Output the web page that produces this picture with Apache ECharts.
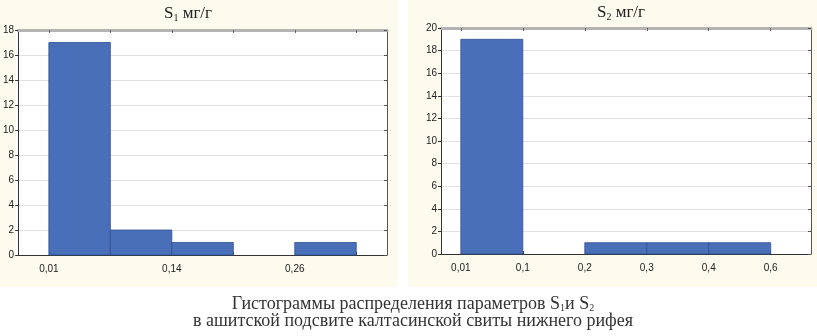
<!DOCTYPE html>
<html>
<head>
<meta charset="utf-8">
<script src="https://cdn.jsdelivr.net/npm/echarts@6/dist/echarts.min.js"></script>
<style>
  html, body { margin: 0; padding: 0; background: #fff; }
  #chart { width: 817px; height: 336px; }
</style>
</head>
<body>
<div id="chart"></div>
<script>
// bin edges are indexed 0..5, each bin spans [i, i+1]
const s1Counts = [17, 2, 1, 0, 1]
const s1EdgeLabels = ['0,01', '', '0,14', '', '0,26', '']
const s2Counts = [19, 0, 1, 1, 1]
const s2EdgeLabels = ['0,01', '0,1', '0,2', '0,3', '0,4', '0,6']
const s1YTicks = [0, 2, 4, 6, 8, 10, 12, 14, 16, 18]
const s2YTicks = [0, 2, 4, 6, 8, 10, 12, 14, 16, 18, 20]

const barFill = '#4a6fb9'
const barStroke = '#2f4f8f'
const labelFont = { fontFamily: 'Liberation Sans, Arial, sans-serif', fontSize: 10, color: '#222' }

const toBins = counts => counts.map((c, i) => [i, i + 1, c]).filter(d => d[2] > 0)
const edges = labels => labels.map((l, i) => i)
const labeledEdges = labels => labels.map((l, i) => i).filter(i => labels[i] !== '')

const renderBin = (params, api) => {
  const p0 = api.coord([api.value(0), 0])
  const p1 = api.coord([api.value(1), api.value(2)])
  return {
    type: 'rect',
    shape: { x: p0[0], y: p1[1], width: p1[0] - p0[0], height: p0[1] - p1[1] },
    style: { fill: barFill, stroke: barStroke, lineWidth: 0.8 }
  }
}

const bottomAxis = (gridIndex, min, max, labels) => ({
  type: 'value', gridIndex, min, max, position: 'bottom',
  axisLine: { onZero: false, lineStyle: { color: '#333', width: 1 } },
  axisTick: { show: true, length: 3, inside: true, customValues: edges(labels), lineStyle: { color: '#333' } },
  axisLabel: Object.assign({ customValues: labeledEdges(labels), margin: 9,
    formatter: v => labels[Math.round(v)] }, labelFont),
  splitLine: { show: false }
})
const topAxis = (gridIndex, min, max, labels) => ({
  type: 'value', gridIndex, min, max, position: 'top',
  axisLine: { onZero: false, lineStyle: { color: '#b4b4b4', width: 3 } },
  axisTick: { show: true, length: 3, inside: true, customValues: edges(labels), lineStyle: { color: '#666' } },
  axisLabel: { show: false },
  splitLine: { show: false }
})
const leftAxis = (gridIndex, ticks) => ({
  type: 'value', gridIndex, min: 0, max: ticks[ticks.length - 1], interval: 2, position: 'left',
  axisLine: { show: true, onZero: false, lineStyle: { color: '#333', width: 1 } },
  axisTick: { show: true, length: 3, lineStyle: { color: '#333' } },
  axisLabel: Object.assign({ margin: 4 }, labelFont),
  splitLine: { show: true, lineStyle: { color: '#e2e2e2', width: 1 } }
})
const rightAxis = (gridIndex, ticks) => ({
  type: 'value', gridIndex, min: 0, max: ticks[ticks.length - 1], interval: 2, position: 'right',
  axisLine: { show: true, onZero: false, lineStyle: { color: '#555', width: 1 } },
  axisTick: { show: true, length: 3, inside: true, lineStyle: { color: '#555' } },
  axisLabel: { show: false },
  splitLine: { show: false }
})

const serif = 'Liberation Serif, Times New Roman, serif'
const titleRich = {
  base: { fontFamily: serif, fontSize: 17, fontWeight: 'normal', color: '#222' },
  sub: { fontFamily: serif, fontSize: 10, fontWeight: 'normal', color: '#222', padding: [8, 0, 0, 0] }
}
const captionRich = {
  base: { fontFamily: serif, fontSize: 18, fontWeight: 'normal', color: '#333', lineHeight: 17 },
  sub: { fontFamily: serif, fontSize: 10, fontWeight: 'normal', color: '#333', padding: [8, 0, 0, 0] }
}

const chart = echarts.init(document.getElementById('chart'))
chart.setOption({
  backgroundColor: '#ffffff',
  animation: false,
  graphic: [
    { type: 'rect', left: 0, top: 0, shape: { width: 398, height: 287 }, style: { fill: '#fdfaee' }, z: -10 },
    { type: 'rect', left: 408, top: 0, shape: { width: 409, height: 287 }, style: { fill: '#fdfaee' }, z: -10 },
    { type: 'rect', left: 16, top: 30, shape: { width: 371, height: 225 }, style: { fill: '#ffffff' }, z: -9 },
    { type: 'rect', left: 441, top: 28, shape: { width: 370, height: 226 }, style: { fill: '#ffffff' }, z: -9 }
  ],
  title: [
    { text: '{base|S}{sub|1}{base| мг/г}', left: 183, top: 0, textAlign: 'center', textStyle: { fontWeight: 'normal', rich: titleRich } },
    { text: '{base|S}{sub|2}{base| мг/г}', left: 616, top: -1, textAlign: 'center', textStyle: { fontWeight: 'normal', rich: titleRich } },
    {
      text: '{base|Гистограммы распределения параметров S}{sub|1}{base|и S}{sub|2}\n{base|в ашитской подсвите калтасинской свиты нижнего рифея}',
      left: 408, top: 290, textAlign: 'center',
      textStyle: { fontWeight: 'normal', rich: captionRich }
    }
  ],
  grid: [
    { left: 16, right: 430, top: 30, bottom: 81 },
    { left: 441, right: 6, top: 28, bottom: 82 }
  ],
  xAxis: [
    bottomAxis(0, -0.5, 5.5, s1EdgeLabels),
    topAxis(0, -0.5, 5.5, s1EdgeLabels),
    bottomAxis(1, -0.32, 5.65, s2EdgeLabels),
    topAxis(1, -0.32, 5.65, s2EdgeLabels)
  ],
  yAxis: [
    leftAxis(0, s1YTicks),
    rightAxis(0, s1YTicks),
    leftAxis(1, s2YTicks),
    rightAxis(1, s2YTicks)
  ],
  series: [
    { type: 'custom', xAxisIndex: 0, yAxisIndex: 0, renderItem: renderBin, encode: { x: [0, 1], y: 2 }, data: toBins(s1Counts) },
    { type: 'custom', xAxisIndex: 2, yAxisIndex: 2, renderItem: renderBin, encode: { x: [0, 1], y: 2 }, data: toBins(s2Counts) }
  ]
})
</script>
</body>
</html>
